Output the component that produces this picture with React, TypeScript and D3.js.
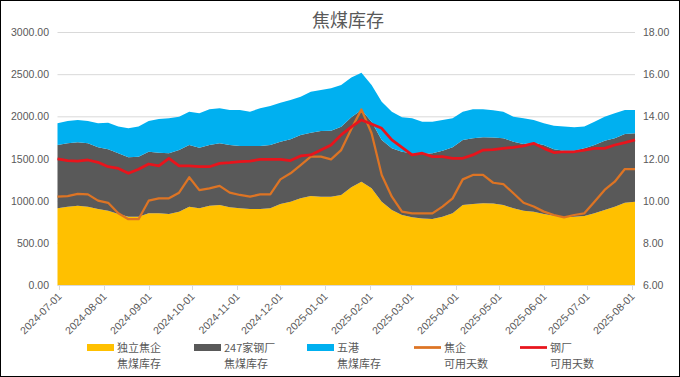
import React from "react";
import * as d3 from "d3";

const dates = [
  "2024-06-30","2024-07-07","2024-07-14","2024-07-21","2024-07-28","2024-08-04","2024-08-11","2024-08-18","2024-08-25",
  "2024-09-01","2024-09-08","2024-09-15","2024-09-22","2024-09-29","2024-10-06","2024-10-13","2024-10-20","2024-10-27",
  "2024-11-03","2024-11-10","2024-11-17","2024-11-24","2024-12-01","2024-12-08","2024-12-15","2024-12-22","2024-12-29",
  "2025-01-05","2025-01-12","2025-01-19","2025-01-26","2025-02-02","2025-02-09","2025-02-16","2025-02-23","2025-03-02",
  "2025-03-09","2025-03-16","2025-03-23","2025-03-30","2025-04-06","2025-04-13","2025-04-20","2025-04-27","2025-05-04",
  "2025-05-11","2025-05-18","2025-05-25","2025-06-01","2025-06-08","2025-06-15","2025-06-22","2025-06-29","2025-07-06",
  "2025-07-13","2025-07-20","2025-07-27","2025-08-03"
];

// 独立焦企焦煤库存
const cokingStock = [
  909,929,941,929,901,881,842,810,810,850,850,842,869,929,910,941,949,921,909,901,901,909,960,988,1028,1055,1047,1047,1067,
  1160,1225,1146,988,889,830,802,790,782,810,850,949,960,968,965,949,909,881,869,842,822,802,810,818,850,889,929,976,988
];
// 247家钢厂焦煤库存
const steelStock = [
  751,751,751,751,732,728,719,704,712,731,719,719,732,731,717,719,731,739,739,747,747,751,740,740,751,751,779,783,810,
  830,850,791,731,732,751,759,763,779,783,783,770,779,783,784,790,791,791,819,818,787,791,783,803,810,822,810,815,810
];
// 五港焦煤库存
const portStock = [
  257,265,265,265,284,316,317,344,356,364,399,416,395,395,409,423,415,415,427,407,447,463,462,466,454,486,486,502,495,
  470,443,435,455,434,407,416,384,376,364,344,336,344,332,323,316,296,305,269,257,280,285,277,257,277,285,297,284,277
];
// 焦企可用天数
const cokingDays = [
  10.19,10.22,10.32,10.3,10.0,9.9,9.4,9.12,9.12,10.0,10.11,10.11,10.38,11.11,10.5,10.58,10.7,10.38,10.27,10.19,10.3,10.3,
  11.01,11.3,11.69,12.09,12.09,11.96,12.4,13.4,14.33,13.2,11.22,10.19,9.48,9.4,9.4,9.4,9.72,10.11,11.01,11.22,11.22,10.85,
  10.79,10.35,9.9,9.72,9.48,9.32,9.21,9.32,9.4,9.95,10.51,10.9,11.5,11.5
];
// 钢厂可用天数
const steelDays = [
  11.98,11.9,11.88,11.93,11.82,11.61,11.53,11.3,11.49,11.74,11.65,12.01,11.65,11.65,11.61,11.61,11.77,11.8,11.85,11.88,
  11.96,11.96,11.96,11.9,12.12,12.17,12.4,12.64,13.12,13.5,13.83,13.64,13.43,12.88,12.53,12.17,12.25,12.09,12.09,12.01,
  12.01,12.17,12.4,12.42,12.48,12.53,12.6,12.72,12.48,12.28,12.32,12.32,12.4,12.48,12.48,12.64,12.75,12.88
];

const leftTicks = [0, 500, 1000, 1500, 2000, 2500, 3000];
const rightTicks = [6, 8, 10, 12, 14, 16, 18];
const title = "焦煤库存";

const areaSeries = [
  { key: "coking", name: ["独立焦企", "焦煤库存"], color: "#FFC000", values: cokingStock },
  { key: "steel", name: ["247家钢厂", "焦煤库存"], color: "#595959", values: steelStock },
  { key: "port", name: ["五港", "焦煤库存"], color: "#00B0F0", values: portStock },
];
const lineSeries = [
  { key: "cd", name: ["焦企", "可用天数"], color: "#DD7424", width: 2.25, values: cokingDays },
  { key: "sd", name: ["钢厂", "可用天数"], color: "#E8141C", width: 2.75, values: steelDays },
];

const W = 680, H = 377;
const PL = 57.5, PR = 635, PT = 32, PB = 285;
const FONT = "'Liberation Sans', Arial, sans-serif";
const CJK = "'Noto Sans CJK SC', 'Noto Sans', sans-serif";
const TXT = "#595959";

export default function App() {
  React.useEffect(() => {
    document.body.style.margin = "0";
  }, []);
  const parse = d3.timeParse("%Y-%m-%d");
  const ds = dates.map((d) => parse(d) as Date);
  const x = d3.scaleTime().domain([ds[0], ds[ds.length - 1]]).range([PL, PR]);
  const yL = d3.scaleLinear().domain([0, 3000]).range([PB, PT]);
  const yR = d3.scaleLinear().domain([6, 18]).range([PB, PT]);

  const rows = ds.map((d, i) => ({
    date: d,
    coking: cokingStock[i],
    steel: steelStock[i],
    port: portStock[i],
  }));
  const stacked = d3.stack<any>().keys(areaSeries.map((s) => s.key))(rows);
  const area = d3
    .area<any>()
    .x((d) => x(d.data.date))
    .y0((d) => yL(d[0]))
    .y1((d) => yL(d[1]));

  const monthTicks = d3.timeMonth.range(new Date(2024, 6, 1), new Date(2025, 7, 2));
  const fmt = d3.timeFormat("%Y-%m-%d");

  const legendItems = [
    { type: "rect", color: areaSeries[0].color, name: areaSeries[0].name, x: 87 },
    { type: "rect", color: areaSeries[1].color, name: areaSeries[1].name, x: 194 },
    { type: "rect", color: areaSeries[2].color, name: areaSeries[2].name, x: 307 },
    { type: "line", color: lineSeries[0].color, name: lineSeries[0].name, x: 414 },
    { type: "line", color: lineSeries[1].color, name: lineSeries[1].name, x: 520 },
  ];

  return (
    <svg width={W} height={H} style={{ position: "absolute", left: 0, top: 0, display: "block" }}>
      <rect x={0} y={0} width={W} height={H} fill="#fff" />
      <rect x={0.5} y={0.5} width={W - 1} height={H - 1} fill="none" stroke="#000" strokeWidth={1} />
      <text x={348} y={27} textAnchor="middle" fontFamily={CJK} fontSize={18} fill={TXT}>
        {title}
      </text>
      {leftTicks.map((t) => (
        <line key={"g" + t} x1={PL} x2={PR} y1={yL(t) + 0.5} y2={yL(t) + 0.5} stroke="#D9D9D9" strokeWidth={1} />
      ))}
      {stacked.map((s, i) => (
        <path key={s.key} d={area(s) || ""} fill={areaSeries[i].color} />
      ))}
      {lineSeries.map((s) => (
        <path
          key={s.key}
          d={
            d3
              .line<number>()
              .x((_, i) => x(ds[i]))
              .y((v) => yR(v))(s.values) || ""
          }
          fill="none"
          stroke={s.color}
          strokeWidth={s.width}
          strokeLinejoin="round"
        />
      ))}
      <line x1={PL} x2={PR} y1={PB + 0.5} y2={PB + 0.5} stroke="#D9D9D9" />
      {monthTicks.map((m) => {
        const px = Math.round(x(m)) + 0.5;
        return (
          <g key={fmt(m)}>
            <line x1={px} x2={px} y1={PB} y2={PB + 5} stroke="#D9D9D9" />
            <text
              transform={`translate(${px + 3},${PB + 12}) rotate(-45)`}
              textAnchor="end"
              fontFamily={FONT}
              fontSize={10.5}
              fill={TXT}
            >
              {fmt(m)}
            </text>
          </g>
        );
      })}
      {leftTicks.map((t) => (
        <text key={"l" + t} x={49} y={yL(t) + 4} textAnchor="end" fontFamily={FONT} fontSize={10.5} fill={TXT}>
          {t.toFixed(2)}
        </text>
      ))}
      {rightTicks.map((t) => (
        <text key={"r" + t} x={643} y={yR(t) + 4} textAnchor="start" fontFamily={FONT} fontSize={10.5} fill={TXT}>
          {t.toFixed(2)}
        </text>
      ))}
      {legendItems.map((it, i) => (
        <g key={"lg" + i}>
          {it.type === "rect" ? (
            <rect x={it.x} y={344} width={27} height={7} fill={it.color} />
          ) : (
            <line x1={it.x} x2={it.x + 27} y1={347.5} y2={347.5} stroke={it.color} strokeWidth={2.75} />
          )}
          <text x={it.x + 30} y={351.5} fontFamily={CJK} fontSize={11} fill={TXT}>
            {it.name[0]}
          </text>
          <text x={it.x + 30} y={367.5} fontFamily={CJK} fontSize={11} fill={TXT}>
            {it.name[1]}
          </text>
        </g>
      ))}
    </svg>
  );
}
